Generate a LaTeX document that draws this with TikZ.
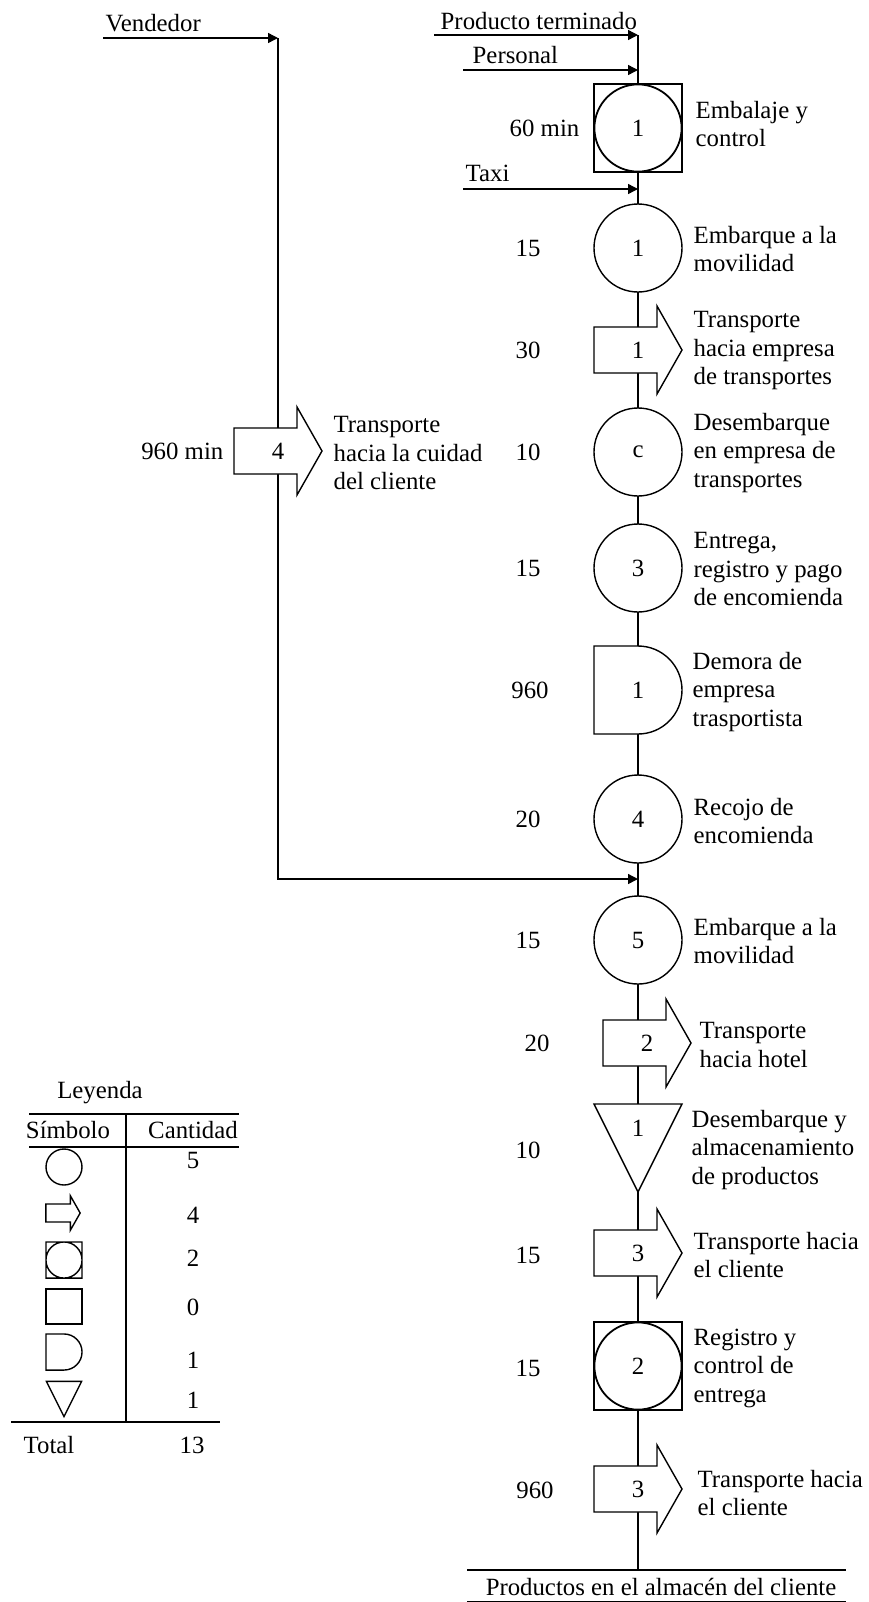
\documentclass[tikz,border=0pt]{standalone}
\usepackage{fontspec}
\setmainfont{Liberation Serif}
\usetikzlibrary{arrows.meta}

\newcommand*{\xm}{638}
\newcommand*{\xv}{278}

% simbolos propios: centro x, centro y, escala
\newcommand*{\flecha}[3]{\draw[forma,shift={(#1,#2)},scale=#3] (-44,-23) -- (19,-23) -- (19,-44) -- (44,0) -- (19,44) -- (19,23) -- (-44,23) -- cycle;}
\newcommand*{\demora}[3]{\draw[forma,shift={(#1,#2)},scale=#3] (0,-44) -- (-44,-44) -- (-44,44) -- (0,44) arc[start angle=90,end angle=-90,radius=44] -- cycle;}
\newcommand*{\almacen}[3]{\draw[forma,shift={(#1,#2)},scale=#3] (-44,-44) -- (44,-44) -- (0,44) -- cycle;}
\newcommand*{\combinada}[3]{\draw[forma,shift={(#1,#2)},scale=#3] (-44,-44) rectangle (44,44) (0,0) circle[radius=44];}

\begin{document}
\begin{tikzpicture}
[
	x=0.5pt, y=-0.5pt,
	font=\fontsize{12.4}{14.25}\selectfont,
	line width=0.7pt,
	forma/.style={draw,fill=white},
	op/.style={circle,draw,fill=white,inner sep=0pt,minimum size=44pt},
	combo/.style={rectangle,draw,fill=white,inner sep=0pt,minimum size=44pt,
		path picture={\draw[line width=0.9pt] (path picture bounding box.center) circle[radius=21.8pt];}},
	num/.style={inner sep=0pt},
	tiempo/.style={inner sep=0pt},
	desc/.style={anchor=west,align=left,inner sep=0pt},
	entrada/.style={-{Triangle[length=5pt,width=5pt]}}
]
	\useasboundingbox (0,0) rectangle (868,1602);

	% lineas de fondo
	\coordinate (inicio) at (\xm,35);
	\coordinate (fin) at (\xm,1570);
	\draw (inicio) -- (fin);
	%
	\coordinate (vendA) at (103,38);
	\coordinate (vendB) at (\xv,38);
	\coordinate (vendC) at (\xv,879);
	\coordinate (vendD) at (\xm,879);
	\draw[entrada] (vendA) -- (vendB);
	\draw[entrada] (vendB) -- (vendC) -- (vendD);
	\node[anchor=west,inner sep=0pt] at (105,23) (tvend) {Vendedor};

	% entradas
	\coordinate (prodA) at (434,35);
	\draw[entrada] (prodA) -- (inicio);
	\node[anchor=west,inner sep=0pt] at (440,21) (tprod) {Producto terminado};
	%
	\coordinate (persA) at (463,70);
	\coordinate (persB) at (\xm,70);
	\draw[entrada] (persA) -- (persB);
	\node[anchor=west,inner sep=0pt] at (472,55) (tpers) {Personal};
	%
	\coordinate (taxiA) at (463,189);
	\coordinate (taxiB) at (\xm,189);
	\draw[entrada] (taxiA) -- (taxiB);
	\node[anchor=west,inner sep=0pt] at (465,173) (ttaxi) {Taxi};

	% embalaje y control
	\node[combo] at (\xm,128) (emb) {1};
	\node[tiempo,anchor=east] at (580,128) (temb) {60 min};
	\node[desc] at (695,124) (demb) {Embalaje y\\control};
	%
	\node[op] at (\xm,248) (carga1) {1};
	\node[tiempo] at (528,248) (tcarga1) {15};
	\node[desc] at (693,249) (dcarga1) {Embarque a la\\movilidad};
	%
	\flecha{\xm}{350}{1}
	\node[num] at (\xm,350) (tr1) {1};
	\node[tiempo] at (528,350) (ttr1) {30};
	\node[desc] at (693,351) (dtr1) {Transporte\\hacia empresa\\de transportes};
	%
	\node[op] at (\xm,452) (desc1) {c};
	\node[tiempo] at (528,452) (tdesc1) {10};
	\node[desc] at (693,453) (ddesc1) {Desembarque\\en empresa de\\transportes};
	%
	\node[op] at (\xm,568) (entr) {3};
	\node[tiempo] at (528,568) (tentr) {15};
	\node[desc] at (693,569) (dentr) {Entrega,\\registro y pago\\de encomienda};
	%
	\demora{\xm}{690}{1}
	\node[num] at (\xm,690) (dem) {1};
	\node[tiempo] at (530,690) (tdem) {960};
	\node[desc] at (692,692) (ddem) {Demora de\\empresa\\trasportista};
	%
	\node[op] at (\xm,819) (rec) {4};
	\node[tiempo] at (528,819) (trec) {20};
	\node[desc] at (693,821) (drec) {Recojo de\\encomienda};

	% transporte a la ciudad
	\flecha{\xv}{451}{1}
	\node[num] at (\xv,451) (tr4) {4};
	\node[tiempo,anchor=east] at (224,451) (ttr4) {960 min};
	\node[desc] at (333,453) (dtr4) {Transporte\\hacia la cuidad\\del cliente};

	% segunda parte
	\node[op] at (\xm,940) (carga2) {5};
	\node[tiempo] at (528,940) (tcarga2) {15};
	\node[desc] at (693,941) (dcarga2) {Embarque a la\\movilidad};
	%
	\flecha{647}{1043}{1}
	\node[num] at (647,1043) (tr2) {2};
	\node[tiempo] at (537,1043) (ttr2) {20};
	\node[desc] at (699,1045) (dtr2) {Transporte\\hacia hotel};
	%
	\almacen{\xm}{1148}{1}
	\node[num] at (\xm,1128) (alm) {1};
	\node[tiempo] at (528,1150) (talm) {10};
	\node[desc] at (691,1150) (dalm) {Desembarque y\\almacenamiento\\de productos};
	%
	\flecha{\xm}{1253}{1}
	\node[num] at (\xm,1253) (tr3) {3};
	\node[tiempo] at (528,1255) (ttr3) {15};
	\node[desc] at (693,1255) (dtr3) {Transporte hacia\\el cliente};
	%
	\node[combo] at (\xm,1366) (regc) {2};
	\node[tiempo] at (528,1368) (tregc) {15};
	\node[desc] at (693,1368) (dregc) {Registro y\\control de\\entrega};
	%
	\flecha{\xm}{1489}{1}
	\node[num] at (\xm,1489) (tr5) {3};
	\node[tiempo] at (535,1490) (ttr5) {960};
	\node[desc] at (697,1493) (dtr5) {Transporte hacia\\el cliente};

	% final
	\coordinate (finA) at (467,1570);
	\coordinate (finB) at (846,1570);
	\draw (finA) -- (finB);
	\node[inner sep=0pt] at (661,1587) (tfin) {Productos en el almac\'en del cliente};
	\draw[line width=0.5pt] (467,1601) -- (846,1601);

	% leyenda
	\node[inner sep=0pt] at (100,1093) (ley) {Leyenda};
	\draw (29,1114) -- (239,1114);
	\draw (29,1147) -- (239,1147);
	\draw (126,1114) -- (126,1422);
	\draw (11,1422) -- (220,1422);
	\node[inner sep=0pt] at (68,1130) (hsim) {Símbolo};
	\node[inner sep=0pt] at (193,1130) (hcant) {Cantidad};
	%
	\draw (64,1167) circle[radius=18];
	\flecha{63}{1213}{0.39}
	\combinada{64}{1260}{0.41}
	\draw (46,1289) rectangle (82,1324);
	\demora{64}{1352}{0.41}
	\almacen{64}{1399}{0.40}
	%
	\node[inner sep=0pt] at (193,1160) (c1) {5};
	\node[inner sep=0pt] at (193,1215) (c2) {4};
	\node[inner sep=0pt] at (193,1258) (c3) {2};
	\node[inner sep=0pt] at (193,1307) (c4) {0};
	\node[inner sep=0pt] at (193,1360) (c5) {1};
	\node[inner sep=0pt] at (193,1400) (c6) {1};
	\node[inner sep=0pt] at (49,1445) (tot) {Total};
	\node[inner sep=0pt] at (192,1445) (ntot) {13};

\end{tikzpicture}
\end{document}
